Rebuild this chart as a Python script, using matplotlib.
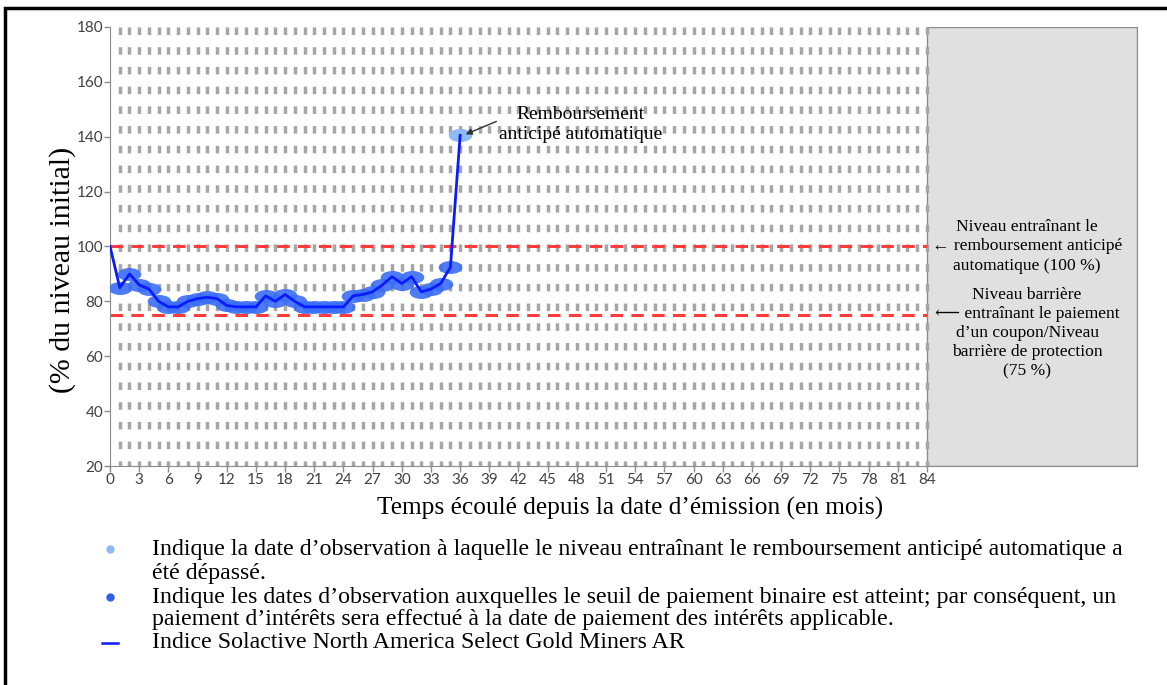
import numpy as np
import matplotlib
matplotlib.use("Agg")
import matplotlib.pyplot as plt
from matplotlib.path import Path
from matplotlib.transforms import Affine2D
from matplotlib.lines import Line2D
from matplotlib.patches import Rectangle

plt.rcParams["lines.scale_dashes"] = False

# =============================
# DATA
# =============================
months = list(range(0, 37))
levels = [100, 85, 90, 86, 84.5, 80, 78, 78, 80, 81, 81.5, 81, 78.5, 78, 78, 78,
          82, 80, 82.5, 80, 78, 78, 78, 78, 78, 82, 82.5, 83.5, 86, 89, 86.5, 89,
          83.5, 84.5, 86.5, 92.5, 140.5]
coupon_months = months[1:36]
autocall_month = 36
autocall_level = 100
barrier_level = 75
maturity = 84
x_end = 105.6
x_ticks = list(range(0, 85, 3))
y_ticks = list(range(20, 181, 20))

# =============================
# FIGURE
# =============================
fig = plt.figure(figsize=(11.67, 6.85), dpi=100)
ax = fig.add_axes([0.0943, 0.3197, 0.8800, 0.6409])

serif = ["Liberation Serif", "DejaVu Serif", "DejaVu Sans"]
sans = ["Lato", "DejaVu Sans"]

# grey zone after maturity
ax.axvspan(maturity, x_end, facecolor="#e0e0e0", edgecolor="#8c8c8c", lw=1.0, zorder=0)

# monthly observation grid
ax.vlines(range(1, maturity + 1), 180, 20, colors="#a6a6a6", lw=2.5,
          linestyles=[(0, (5.4, 8.8))], zorder=1)

# barrier levels
ax.axhline(autocall_level, xmin=0, xmax=maturity / x_end, color="#ff3b3b", lw=2.2,
           dashes=(9, 6), zorder=2)
ax.axhline(barrier_level, xmin=0, xmax=maturity / x_end, color="#ff3b3b", lw=2.2,
           dashes=(9, 6), zorder=2)

# ellipse marker
ell = Path.unit_circle().transformed(Affine2D().scale(1.0, 0.55))

lv = dict(zip(months, levels))
ax.plot(coupon_months, [lv[m] for m in coupon_months], ls="none", marker=ell,
        ms=17, color="#3a6ef5", alpha=0.9, mec="none", zorder=3)
ax.plot([autocall_month], [lv[autocall_month]], ls="none", marker=ell,
        ms=17, color="#8dbaf3", mec="none", zorder=3)
ax.plot(months, levels, color="#0a1bff", lw=2.0, zorder=4)

ax.annotate("Remboursement\nanticipé automatique", xy=(autocall_month + 0.3, lv[autocall_month]),
            xytext=(48.4, 144.5), ha="center", va="center", fontsize=14, family=serif,
            linespacing=1.2,
            arrowprops=dict(arrowstyle="-|>", color="#303030", lw=1.0, mutation_scale=9,
                            relpos=(0.1, 0.8), shrinkA=0, shrinkB=2), zorder=5)

ax.text(94.3, autocall_level, "Niveau entraînant le\n← remboursement anticipé\nautomatique (100 %)",
        ha="center", va="center", fontsize=12.6, family=serif, linespacing=1.33)
ax.text(94.3, 68.3,
        "Niveau barrière\n⟵ entraînant le paiement\nd’un coupon/Niveau\nbarrière de protection\n(75 %)",
        ha="center", va="center", fontsize=12.6, family=serif, linespacing=1.25)

ax.set_xlim(0, x_end)
ax.set_ylim(20, 180)
ax.set_xticks(x_ticks)
ax.set_yticks(y_ticks)
for lab in ax.get_xticklabels() + ax.get_yticklabels():
    lab.set_family(sans)
ax.tick_params(axis="both", labelsize=11, colors="#8c8c8c", labelcolor="#404040",
               length=4, width=1.0, pad=1)
ax.spines["top"].set_visible(False)
for s in ["left", "bottom", "right"]:
    ax.spines[s].set_color("#8c8c8c")

ax.set_xlabel("Temps écoulé depuis la date d’émission (en mois)", fontsize=18.3,
              family=serif, labelpad=7, x=0.506)
ax.set_ylabel("(% du niveau initial)", fontsize=21.5, family=serif)
ax.yaxis.set_label_coords(-0.033, 0.446)

# outer frame
fig.add_artist(Rectangle((5 / 1167, -0.2), 1.2, 1.2 - 8 / 685, transform=fig.transFigure,
                         fill=False, ec="black", lw=2.5))

# =============================
# LEGEND (below chart)
# =============================
tx = 152 / 1167
bx = 110 / 1167
leg_fs = 17.2
fig.text(tx, 1 - 549 / 685, "Indique la date d’observation à laquelle le niveau entraînant le remboursement anticipé automatique a",
         fontsize=leg_fs, family=serif, va="center")
fig.text(tx, 1 - 573 / 685, "été dépassé.", fontsize=leg_fs, family=serif, va="center")
fig.text(tx, 1 - 597 / 685, "Indique les dates d’observation auxquelles le seuil de paiement binaire est atteint; par conséquent, un",
         fontsize=leg_fs, family=serif, va="center")
fig.text(tx, 1 - 620 / 685, "paiement d’intérêts sera effectué à la date de paiement des intérêts applicable.",
         fontsize=leg_fs, family=serif, va="center")
fig.text(tx, 1 - 643 / 685, "Indice Solactive North America Select Gold Miners AR",
         fontsize=leg_fs, family=serif, va="center")

fig.add_artist(Line2D([bx], [1 - 549 / 685], marker="o", ms=6, color="#8dbaf3", mec="none",
                      transform=fig.transFigure))
fig.add_artist(Line2D([bx], [1 - 597 / 685], marker="o", ms=6, color="#2f5ff0", mec="none",
                      transform=fig.transFigure))
fig.add_artist(Line2D([bx - 8 / 1167, bx + 8 / 1167], [1 - 643 / 685] * 2, color="#0a1bff", lw=1.8,
                      transform=fig.transFigure))

fig.savefig("out.png", dpi=100)
